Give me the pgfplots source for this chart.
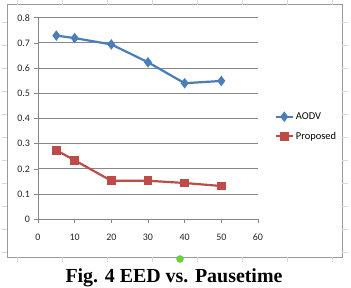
\documentclass[border=0pt]{standalone}
\usepackage{pgfplots}
\pgfplotsset{compat=1.18}
\usepackage{fontspec}
\setmainfont{Carlito}
\newfontfamily\capfont{Liberation Serif}
\definecolor{aodv}{HTML}{4A7EBB}
\definecolor{prop}{HTML}{BE4B48}
\definecolor{gridc}{HTML}{878787}
\definecolor{framec}{HTML}{9A9A9A}
\begin{document}
\begin{tikzpicture}[x=1bp,y=1bp]
\path[use as bounding box] (0,0) rectangle (351,288);
% chart frame
\draw[framec, line width=0.9bp] (7,30.7) rectangle (342.3,283.3);
\foreach \xx in {17,62,107,152,197,242,287,332}{
  \draw[black!15, line width=0.6bp] (\xx,30.7) -- (\xx,25.5);
  \draw[black!15, line width=0.6bp] (\xx,283.3) -- (\xx,287.5);
}
\foreach \yy in {36,59,82,105,128,151,174,197,220,243,266}{
  \draw[black!15, line width=0.6bp] (7,\yy) -- (2,\yy);
  \draw[black!15, line width=0.6bp] (342.3,\yy) -- (347.5,\yy);
}
\begin{axis}[
  at={(38bp,68.7bp)}, anchor=south west,
  scale only axis, width=220bp, height=201.6bp,
  xmin=0, xmax=60, ymin=0, ymax=0.8,
  xtick={0,10,...,60}, ytick={0,0.1,...,0.8},
  axis x line*=bottom, axis y line*=left,
  axis line style={gridc, line width=0.8bp, -},
  tick style={gridc, line width=0.7bp},
  tick align=outside, major tick length=4bp,
  ymajorgrids, grid style={gridc, line width=0.8bp},
  /pgf/number format/assume math mode=true,
  /pgf/number format/fixed, /pgf/number format/precision=1,
  ticklabel style={font=\fontsize{10}{11}\selectfont, text=black!85},
  yticklabel style={xshift=-0.5bp},
  xticklabel style={yshift=-7bp},
  legend style={at={(1.075,0.54)}, anchor=north west, draw=none, fill=none,
    font=\fontsize{10.5}{11}\selectfont, row sep=7bp, inner sep=0pt,
    legend cell align=left},
  clip=false,
]
\addplot[aodv, line width=2.2bp, mark=diamond*, mark size=3.5bp, mark options={fill=aodv}]
  coordinates {(5,0.729) (10,0.719) (20,0.694) (30,0.623) (40,0.540) (50,0.549)};
\addlegendentry{AODV}
\addplot[prop, line width=2.2bp, mark=square*, mark size=3.2bp, mark options={fill=prop}]
  coordinates {(5,0.274) (10,0.234) (20,0.153) (30,0.153) (40,0.144) (50,0.132)};
\addlegendentry{Proposed}
\end{axis}
\fill[green!65!yellow!85!black!90, draw=green!50!black!60, line width=0.5bp] (180,29) circle (3.4);
\node[font=\capfont\bfseries\fontsize{20}{22}\selectfont, anchor=base] at (174,6) {Fig. 4 EED vs. Pausetime};
\end{tikzpicture}
\end{document}
